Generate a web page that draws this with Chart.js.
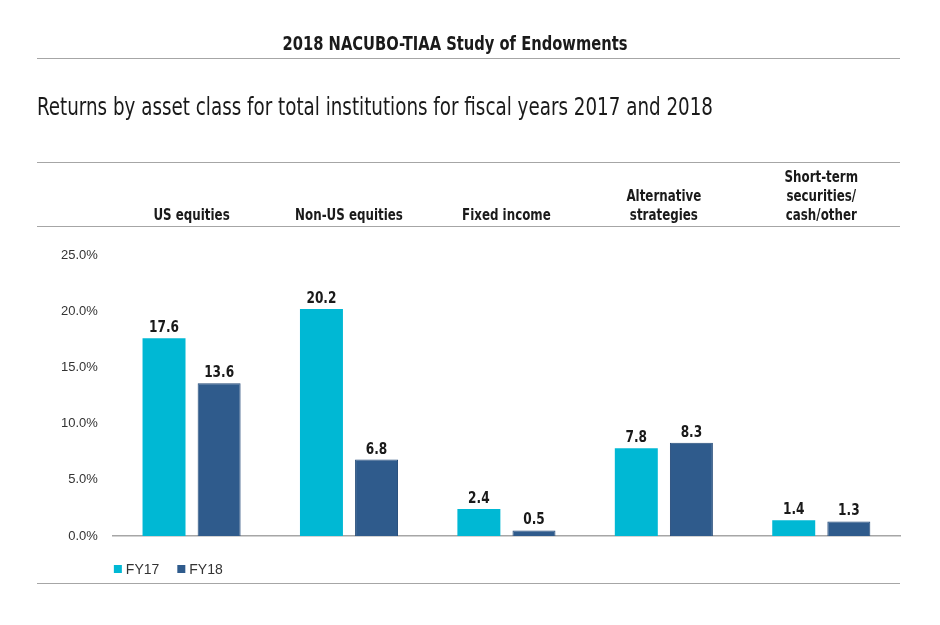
<!DOCTYPE html>
<html lang="en">
<head>
  <meta charset="UTF-8">
  <title>Returns by asset class</title>
  <script src="https://cdn.jsdelivr.net/npm/chart.js"></script>
  <style>
    body {
      margin: 0;
      background: #fff;
    }
    .wrap {
      position: relative;
      width: 940px;
      height: 625px;
    }
  </style>
</head>
<body>
  <div class="wrap"><canvas id="returnsChart" width="940" height="625"></canvas></div>

  <script>
    // data
    const categories = [
      ['US equities'],
      ['Non-US equities'],
      ['Fixed income'],
      ['Alternative', 'strategies'],
      ['Short-term', 'securities/', 'cash/other']
    ];
    const fy17 = [17.6, 20.2, 2.4, 7.8, 1.4];
    const fy18 = [13.6, 6.8, 0.5, 8.3, 1.3];
    const seriesNames = ['FY17', 'FY18'];
    const yTicks = [0, 5, 10, 15, 20, 25];

    const FONT = '"DejaVu Sans Condensed", "Liberation Sans Narrow", Arial, sans-serif';
    const PLAIN = '"Liberation Sans", Arial, sans-serif';
    const RULE = '#a6a6a6';

    // squeeze text horizontally, the reference uses a condensed face
    function narrowText(ctx, text, x, y, factor) {
      const w = ctx.measureText(text).width;
      ctx.fillText(text, x, y, w * factor);
    }

    // header text, rules, category labels, value labels and legend
    const decorations = {
      id: 'decorations',
      afterDraw(chart) {
        const { ctx, chartArea, scales } = chart;
        const left = 37, right = 900;
        ctx.save();

        // rules
        ctx.strokeStyle = RULE;
        ctx.lineWidth = 1.2;
        [58, 162, 226, 583].forEach(y => {
          ctx.beginPath();
          ctx.moveTo(left, y + 0.5);
          ctx.lineTo(right, y + 0.5);
          ctx.stroke();
        });

        // header + title
        ctx.fillStyle = '#1a1a1a';
        ctx.textAlign = 'center';
        ctx.textBaseline = 'alphabetic';
        ctx.font = 'bold 19px ' + FONT;
        ctx.fillText('2018 NACUBO-TIAA Study of Endowments', 455, 50, 345);
        ctx.textAlign = 'left';
        ctx.font = '24px ' + FONT;
        ctx.fillText('Returns by asset class for total institutions for fiscal years 2017 and 2018', left, 115, 676);

        // category labels above the plot, bottom-aligned
        ctx.textAlign = 'center';
        ctx.font = 'bold 15px ' + FONT;
        categories.forEach((lines, i) => {
          const x = scales.x.getPixelForValue(i);
          lines.slice().reverse().forEach((line, k) => {
            narrowText(ctx, line, x, 220 - k * 19, 0.88);
          });
        });

        // value labels
        ctx.font = 'bold 15px ' + FONT;
        chart.data.datasets.forEach((ds, d) => {
          chart.getDatasetMeta(d).data.forEach((bar, i) => {
            narrowText(ctx, ds.data[i].toFixed(1), bar.x, bar.y - 6, 0.9);
          });
        });

        // legend
        ctx.font = '14px ' + PLAIN;
        ctx.textBaseline = 'middle';
        ctx.textAlign = 'left';
        let lx = chartArea.left + 1;
        const ly = 570;
        chart.data.datasets.forEach(ds => {
          ctx.fillStyle = ds.backgroundColor;
          ctx.fillRect(lx, ly - 5, 8, 8);
          ctx.fillStyle = '#333';
          ctx.fillText(ds.label, lx + 12, ly);
          lx += 12 + ctx.measureText(ds.label).width + 18;
        });

        ctx.restore();
      }
    };

    const ctx = document.getElementById('returnsChart').getContext('2d');
    new Chart(ctx, {
      type: 'bar',
      data: {
        labels: categories.map(c => c.join(' ')),
        datasets: [
          {
            label: seriesNames[0],
            data: fy17,
            backgroundColor: '#00b8d4',
            borderColor: '#00b8d4',
            borderWidth: 0
          },
          {
            label: seriesNames[1],
            data: fy18,
            backgroundColor: '#2f5b8c',
            borderColor: '#234a78',
            borderWidth: 1
          }
        ]
      },
      options: {
        responsive: false,
        animation: false,
        layout: {
          padding: { left: 54, right: 40, top: 255, bottom: 81 }
        },
        categoryPercentage: 0.7,
        barPercentage: 0.78,
        plugins: {
          legend: { display: false },
          tooltip: { enabled: false }
        },
        scales: {
          x: {
            grid: { display: false },
            border: { display: true, color: RULE, width: 1.5 },
            ticks: { display: false }
          },
          y: {
            min: 0,
            max: 25,
            afterBuildTicks(scale) {
              scale.ticks = yTicks.map(v => ({ value: v }));
            },
            grid: { display: false },
            border: { display: false },
            ticks: {
              padding: 7,
              color: '#333',
              font: { family: PLAIN, size: 13 },
              callback: v => v.toFixed(1) + '%'
            }
          }
        }
      },
      plugins: [decorations]
    });
  </script>
</body>
</html>
